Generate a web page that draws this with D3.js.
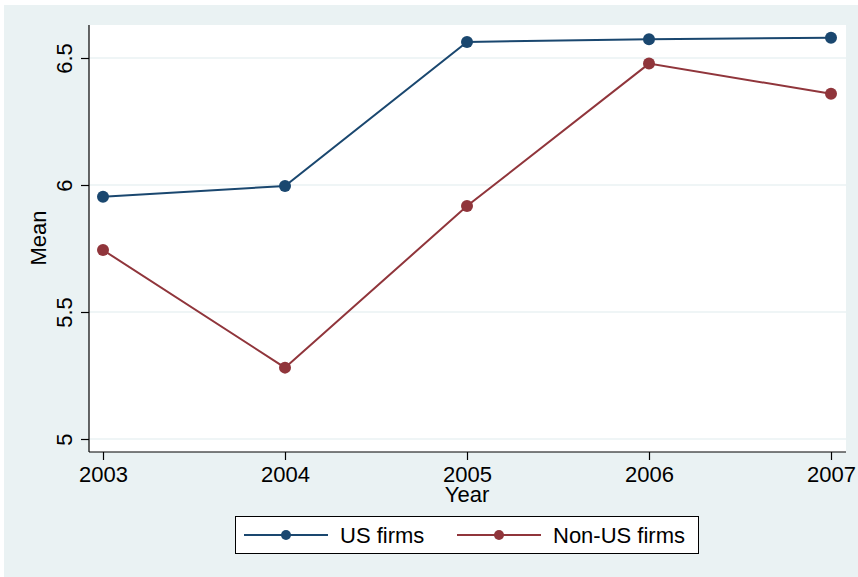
<!DOCTYPE html>
<html>
<head>
<meta charset="utf-8">
<script src="https://cdn.jsdelivr.net/npm/d3@7"></script>
<style>
  body { margin: 0; background: #ffffff; }
  svg { display: block; font-family: "Liberation Sans", Arial, sans-serif; }
</style>
</head>
<body>
<div class="chart"></div>
<script>
// chart data
var years = [2003, 2004, 2005, 2006, 2007];
var usFirms = [5.954, 5.996, 6.563, 6.574, 6.580];
var nonUsFirms = [5.744, 5.281, 5.917, 6.478, 6.359];
var yTicks = [5, 5.5, 6, 6.5];
var seriesNames = ["US firms", "Non-US firms"];
var seriesColors = ["#1a476f", "#90353b"];

var series = [
    { name: seriesNames[0], color: seriesColors[0], values: usFirms },
    { name: seriesNames[1], color: seriesColors[1], values: nonUsFirms }
];

var W = 858, H = 577;
var plot = { left: 89, right: 846, top: 25, bottom: 452 };
var fontSize = 22;

var svg = d3.select(".chart")
    .append("svg")
    .attr("width", W)
    .attr("height", H);

// outer background
svg.append("rect")
    .attr("x", 4).attr("y", 5)
    .attr("width", W - 4).attr("height", H - 5)
    .attr("fill", "#eaf2f3");

// plot area
svg.append("rect")
    .attr("x", plot.left).attr("y", plot.top)
    .attr("width", plot.right - plot.left)
    .attr("height", plot.bottom - plot.top)
    .attr("fill", "#ffffff");

var x = d3.scaleLinear()
    .domain([2003, 2007])
    .range([103, 831]);

var y = d3.scaleLinear()
    .domain([5, 6.5])
    .range([439, 58]);

// grid lines
svg.append("g")
    .selectAll("line")
    .data(yTicks)
    .enter()
    .append("line")
        .attr("x1", plot.left)
        .attr("x2", plot.right)
        .attr("y1", d => y(d))
        .attr("y2", d => y(d))
        .attr("stroke", "#eaf2f3")
        .attr("stroke-width", 1.5);

// Y axis
var yAxis = svg.append("g")
    .attr("transform", "translate(" + plot.left + ",0)")
    .call(d3.axisLeft(y).tickValues(yTicks).tickSize(8).tickPadding(6).tickFormat(d3.format("")));
yAxis.select(".domain")
    .attr("d", "M0," + plot.top + "V" + plot.bottom)
    .attr("stroke", "#000").attr("stroke-width", 1.2);
yAxis.selectAll(".tick line").attr("stroke", "#000").attr("stroke-width", 1.2);
yAxis.selectAll(".tick text")
    .attr("font-size", fontSize)
    .attr("fill", "#000")
    .attr("transform", "rotate(-90)")
    .attr("x", 0)
    .attr("y", -17)
    .attr("dy", 0)
    .style("text-anchor", "middle");

// X axis
var xAxis = svg.append("g")
    .attr("transform", "translate(0," + plot.bottom + ")")
    .call(d3.axisBottom(x).tickValues(years).tickSize(8).tickPadding(6).tickFormat(d3.format("d")));
xAxis.select(".domain")
    .attr("d", "M" + plot.left + ",0H" + plot.right)
    .attr("stroke", "#000").attr("stroke-width", 1.2);
xAxis.selectAll(".tick line").attr("stroke", "#000").attr("stroke-width", 1.2);
xAxis.selectAll(".tick text")
    .attr("font-size", fontSize)
    .attr("fill", "#000")
    .attr("y", 30)
    .attr("dy", 0);

// axis titles
svg.append("text")
    .attr("x", 467).attr("y", 502)
    .attr("text-anchor", "middle")
    .attr("font-size", fontSize)
    .text("Year");

svg.append("text")
    .attr("transform", "translate(46,238) rotate(-90)")
    .attr("text-anchor", "middle")
    .attr("font-size", fontSize)
    .text("Mean");

// lines and markers
var line = d3.line()
    .x((d, i) => x(years[i]))
    .y(d => y(d));

series.forEach(s => {
    svg.append("path")
        .datum(s.values)
        .attr("d", line)
        .attr("fill", "none")
        .attr("stroke", s.color)
        .attr("stroke-width", 2);

    svg.append("g")
        .selectAll("circle")
        .data(s.values)
        .enter()
        .append("circle")
            .attr("cx", (d, i) => x(years[i]))
            .attr("cy", d => y(d))
            .attr("r", 6)
            .attr("fill", s.color);
});

// legend
var legend = svg.append("g");
legend.append("rect")
    .attr("x", 235.5).attr("y", 516.5)
    .attr("width", 463).attr("height", 37)
    .attr("fill", "#ffffff")
    .attr("stroke", "#000")
    .attr("stroke-width", 1);

var legendX = [244, 457];
series.forEach((s, i) => {
    var lx = legendX[i];
    legend.append("line")
        .attr("x1", lx).attr("x2", lx + 84)
        .attr("y1", 535).attr("y2", 535)
        .attr("stroke", s.color)
        .attr("stroke-width", 2);
    legend.append("circle")
        .attr("cx", lx + 42).attr("cy", 535)
        .attr("r", 5)
        .attr("fill", s.color);
    legend.append("text")
        .attr("x", lx + 96).attr("y", 543)
        .attr("font-size", fontSize)
        .text(s.name);
});
</script>
</body>
</html>
